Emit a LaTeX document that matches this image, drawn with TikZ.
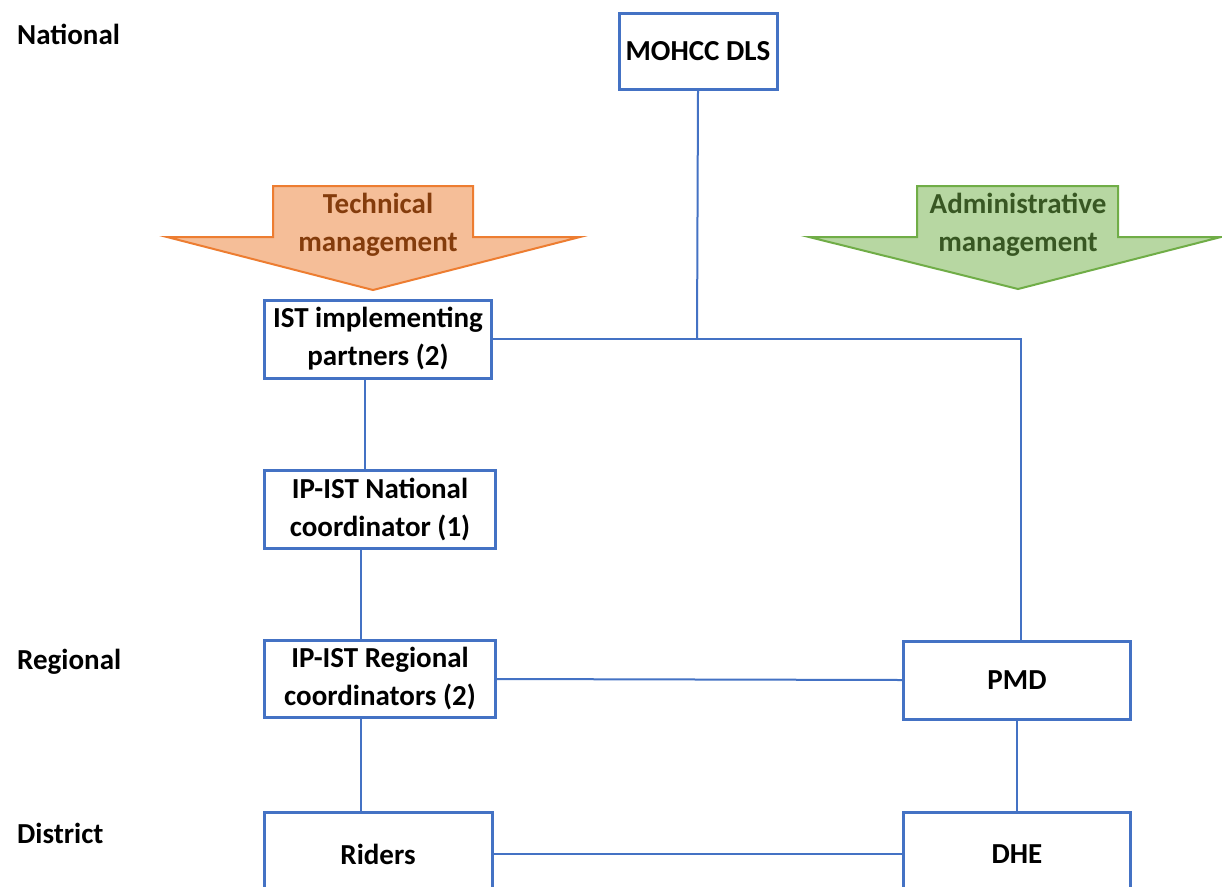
\documentclass[tikz,border=0pt]{standalone}
\usepackage{fontspec}
\setmainfont{Carlito}
\definecolor{boxblue}{HTML}{4472C4}
\definecolor{orfill}{RGB}{245,190,152}
\definecolor{ordraw}{HTML}{ED7D31}
\definecolor{ortext}{HTML}{843C0C}
\definecolor{grfill}{RGB}{183,215,162}
\definecolor{grdraw}{HTML}{70AD47}
\definecolor{grtext}{HTML}{385723}
\begin{document}
\begin{tikzpicture}[x=1pt,y=-1pt,
  box/.style={draw=boxblue, line width=3pt, fill=white, align=center,
    font=\fontsize{29}{38}\selectfont\bfseries, inner sep=0pt},
  conn/.style={draw=boxblue, line width=2pt},
  level/.style={anchor=west, font=\fontsize{29}{34}\selectfont\bfseries, inner sep=0pt},
  arrtext/.style={align=center, font=\fontsize{29}{38}\selectfont\bfseries, inner sep=0pt}]
\useasboundingbox (0,0) rectangle (1222,886);
\clip (0,0) rectangle (1222,886);
\fill[white] (0,0) rectangle (1222,886);

% level labels
\node[level] (lnat) at (17,34) {National};
\node[level] (lreg) at (17,662) {Regional};
\node[level] (ldis) at (17,833) {District};

% management arrows
\draw[fill=orfill, draw=ordraw, line width=2pt, line join=miter]
  (273,186) -- (473,186) -- (473,237) -- (580,237) -- (373,290) -- (167,237) -- (273,237) -- cycle;
\node[arrtext, text=ortext] (tech) at (378,225) {Technical\\management};
\draw[fill=grfill, draw=grdraw, line width=2pt, line join=miter]
  (917,186) -- (1118,186) -- (1118,237) -- (1221,237) -- (1018,289) -- (809,237) -- (917,237) -- cycle;
\node[arrtext, text=grtext] (admin) at (1018,225) {Administrative\\management};

% coordinates
\coordinate (j) at (697,338);
\coordinate (c) at (1021,339);
\coordinate (x1) at (365,0);
\coordinate (x2) at (361,0);

% boxes
\node[box, minimum width=158pt, minimum height=76pt] (mohcc) at (698,51) {MOHCC DLS};
\node[box, minimum width=227pt, minimum height=78pt] (ist) at (378,339) {IST implementing\\partners (2)};
\node[box, minimum width=231pt, minimum height=78pt] (nat) at (380,509) {IP-IST National\\coordinator (1)};
\node[box, minimum width=231pt, minimum height=77pt] (reg) at (380,679) {IP-IST Regional\\coordinators (2)};
\node[box, minimum width=227pt, minimum height=78pt] (pmd) at (1017,680) {PMD};
\node[box, minimum width=228pt, minimum height=84pt] (riders) at (378,854) {Riders};
\node[box, minimum width=227pt, minimum height=84pt] (dhe) at (1017,854) {DHE};

% connectors
\draw[conn] (mohcc.south) -- (j);
\draw[conn] (ist.east) -- (c) -- (c |- pmd.north);
\draw[conn] (ist.south -| x1) -- (nat.north -| x1);
\draw[conn] (nat.south -| x2) -- (reg.north -| x2);
\draw[conn] (reg.south -| x2) -- (riders.north -| x2);
\draw[conn] (reg.east) -- (pmd.west);
\draw[conn] (pmd.south) -- (dhe.north);
\draw[conn] (riders.east) -- (dhe.west);
\end{tikzpicture}
\end{document}
